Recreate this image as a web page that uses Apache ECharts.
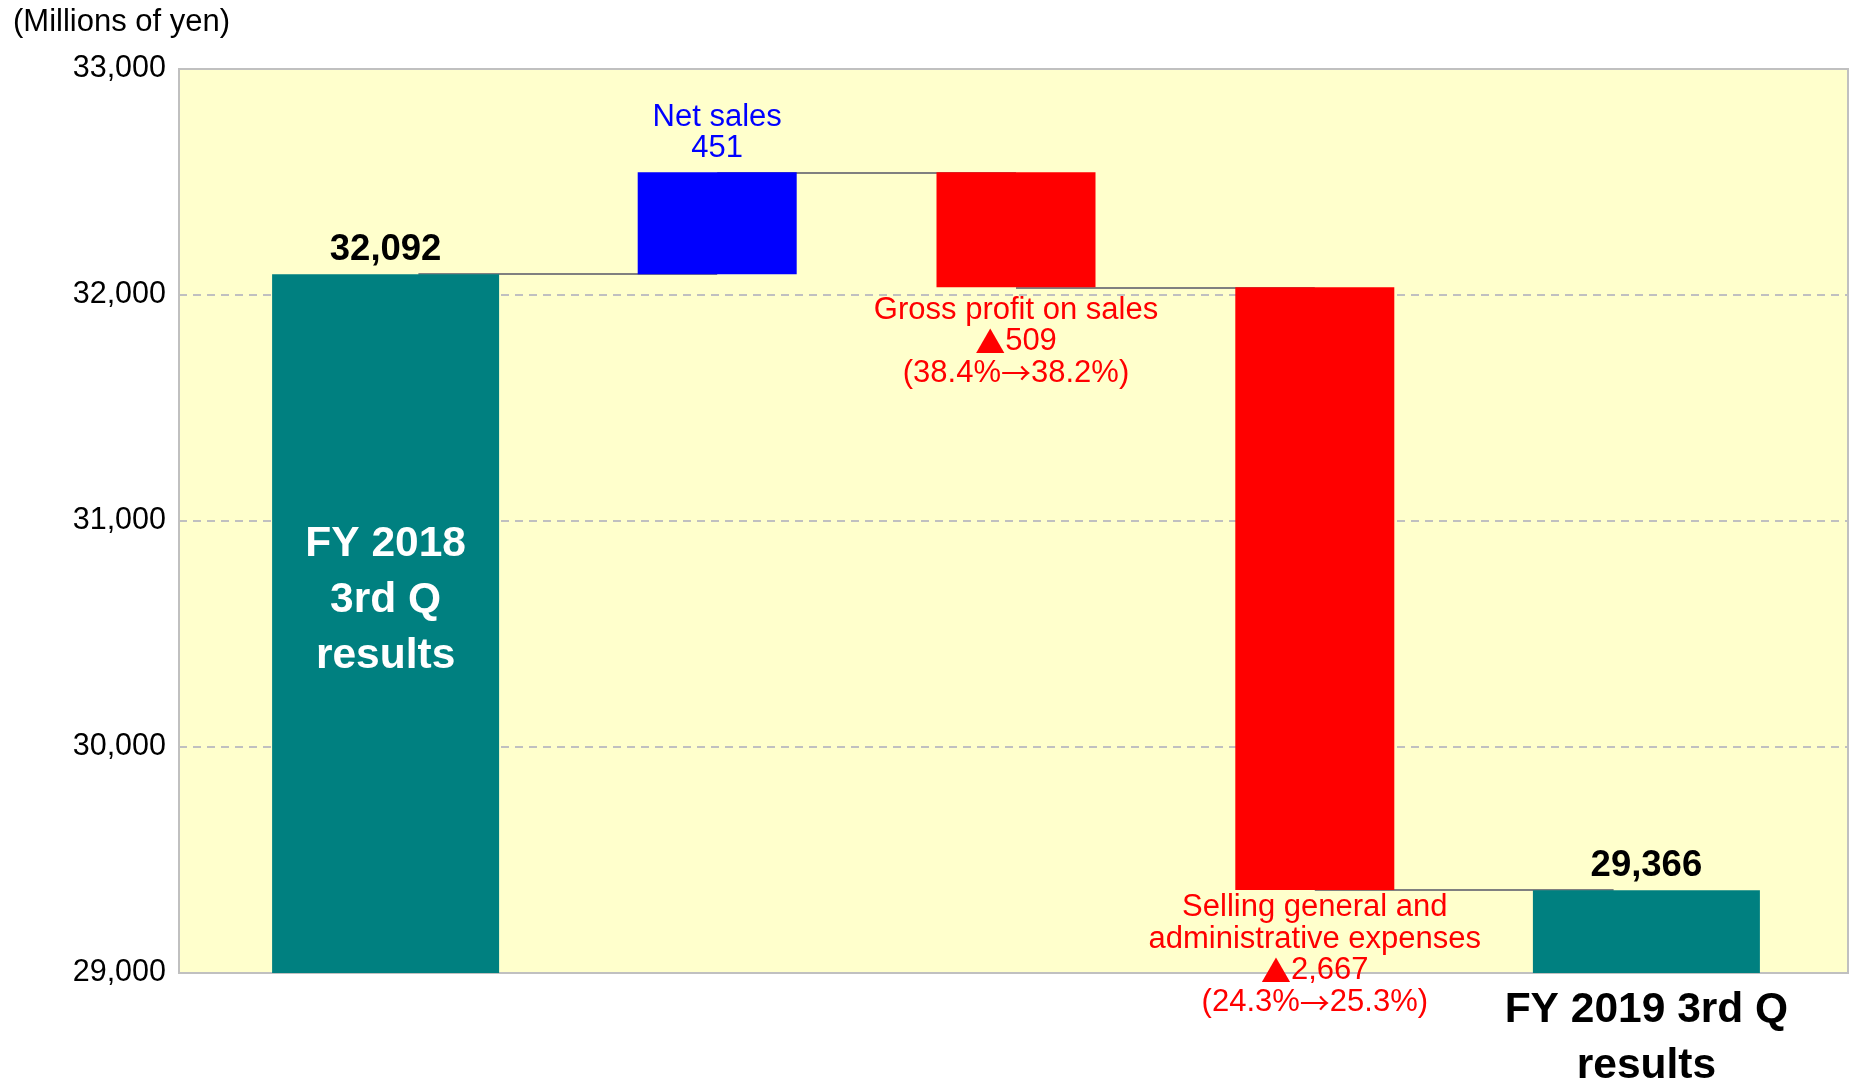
<!DOCTYPE html>
<html><head><meta charset="utf-8">
<script src="https://cdn.jsdelivr.net/npm/echarts@6/dist/echarts.min.js"></script>
<style>html,body{margin:0;padding:0;background:#fff}#c{width:1854px;height:1088px}</style>
</head><body><div id="c"></div>
<script>
// ---- data ----
const categories = ['FY 2018\n3rd Q\nresults', 'Net sales', 'Gross profit on sales', 'Selling general and\nadministrative expenses', 'FY 2019 3rd Q\nresults'];
const startValue = 32092;
const endValue = 29366;
const changes = [451, -509, -2667];
const changeLabels = ['Net sales\n451', 'Gross profit on sales\n▲509\n(38.4%→38.2%)', 'Selling general and\nadministrative expenses\n▲2,667\n(24.3%→25.3%)'];
const changeColors = ['#0000ff', '#ff0000', '#ff0000'];
const yMin = 29000, yMax = 33000, yInterval = 1000;
const unitLabel = '(Millions of yen)';

// ---- derived ----
const FONT = '"Liberation Sans", Arial, sans-serif';
const CJK = '"Noto Sans CJK JP", sans-serif';
const fmt = v => v.toLocaleString('en-US');
const richify = s => s.replace(/▲/g, '{s|▲}').replace(/→/g, '{s|→}');
let running = startValue;
const baseData = ['-'], riseData = ['-'], levels = [startValue];
changes.forEach((c, i) => {
  baseData.push(c > 0 ? running : running + c);
  riseData.push({
    value: Math.abs(c),
    itemStyle: { color: changeColors[i] },
    label: {
      show: true,
      position: c > 0 ? 'top' : 'bottom',
      distance: c > 0 ? 8 : (i === 1 ? 7 : 2),
      formatter: richify(changeLabels[i]),
      color: changeColors[i],
      fontSize: 31,
      lineHeight: 31.5,
      fontFamily: FONT,
      align: 'center',
      rich: {
        s: { fontFamily: CJK, fontSize: 30, lineHeight: 31.5, color: changeColors[i] }
      }
    }
  });
  running += c;
  levels.push(running);
});
baseData.push('-'); riseData.push('-');
const connectors = levels.map((lv, i) => [
  { coord: [categories[i], lv] },
  { coord: [categories[i + 1], lv] }
]);
const totalData = categories.map((c, i) => i === 0 ? startValue : (i === categories.length - 1 ? endValue : '-'));

const TOP = 69, BOTTOM = 115;
const option = {
  animation: false,
  backgroundColor: '#ffffff',
  textStyle: { fontFamily: FONT },
  graphic: [{
    type: 'text', left: 13, top: 7,
    style: { text: unitLabel, fontSize: 31, fill: '#000', fontFamily: FONT }
  }],
  grid: [
    { left: 179, right: 6, top: TOP, bottom: BOTTOM, show: true, backgroundColor: '#ffffcc', borderColor: '#c0c0c0', borderWidth: 2, containLabel: false, outerBoundsMode: 'none' },
    { left: 228, right: 50, top: TOP, bottom: BOTTOM, containLabel: false, outerBoundsMode: 'none' },
    { left: 269, right: 91, top: TOP, bottom: BOTTOM, containLabel: false, outerBoundsMode: 'none' }
  ],
  xAxis: [
    { type: 'category', gridIndex: 0, data: categories, show: false },
    {
      type: 'category', gridIndex: 1, data: categories,
      axisLine: { show: false }, axisTick: { show: false },
      axisLabel: {
        interval: 0, margin: 9,
        formatter: (v, i) => i === categories.length - 1 ? v : '',
        fontSize: 42.5, fontWeight: 'bold', color: '#000', lineHeight: 56, fontFamily: FONT
      }
    },
    { type: 'category', gridIndex: 2, data: categories, show: false }
  ],
  yAxis: [
    {
      type: 'value', gridIndex: 0, min: yMin, max: yMax, interval: yInterval,
      axisLine: { show: false }, axisTick: { show: false },
      axisLabel: { formatter: v => fmt(v), fontSize: 30.5, color: '#000', margin: 13, fontFamily: FONT },
      splitLine: { show: true, lineStyle: { color: '#c0c0c0', width: 2, type: [8, 6] } }
    },
    { type: 'value', gridIndex: 1, min: yMin, max: yMax, interval: yInterval, show: false, splitLine: { show: false } },
    { type: 'value', gridIndex: 2, min: yMin, max: yMax, interval: yInterval, show: false, splitLine: { show: false } }
  ],
  series: [
    {
      name: 'connectors', type: 'line', xAxisIndex: 2, yAxisIndex: 2, data: [], z: 1,
      markLine: {
        z: 1, symbol: 'none', silent: true, label: { show: false },
        lineStyle: { color: '#808080', width: 2, type: 'solid' },
        data: connectors
      }
    },
    {
      name: 'totals', type: 'bar', xAxisIndex: 1, yAxisIndex: 1, barWidth: 227, z: 3,
      data: totalData,
      itemStyle: { color: '#008080' },
      label: {
        show: true, position: 'top', distance: 6, formatter: p => fmt(p.value),
        fontSize: 36.5, fontWeight: 'bold', color: '#000', fontFamily: FONT
      }
    },
    {
      name: 'totalNames', type: 'bar', xAxisIndex: 1, yAxisIndex: 1, barWidth: 227, barGap: '-100%', z: 4,
      data: totalData.map((v, i) => i === 0 ? { value: v, label: { show: true } } : v),
      itemStyle: { color: 'rgba(0,0,0,0)' },
      label: {
        show: false, position: 'inside', offset: [0, -23], formatter: categories[0],
        fontSize: 42.5, fontWeight: 'bold', color: '#ffffff', lineHeight: 56, fontFamily: FONT, align: 'center'
      }
    },
    {
      name: 'base', type: 'bar', xAxisIndex: 2, yAxisIndex: 2, stack: 'w', barWidth: 159, z: 3,
      data: baseData, itemStyle: { color: 'rgba(0,0,0,0)' }
    },
    {
      name: 'change', type: 'bar', xAxisIndex: 2, yAxisIndex: 2, stack: 'w', barWidth: 159, z: 3,
      data: riseData
    }
  ]
};
echarts.init(document.getElementById('c')).setOption(option);
</script>
</body></html>
